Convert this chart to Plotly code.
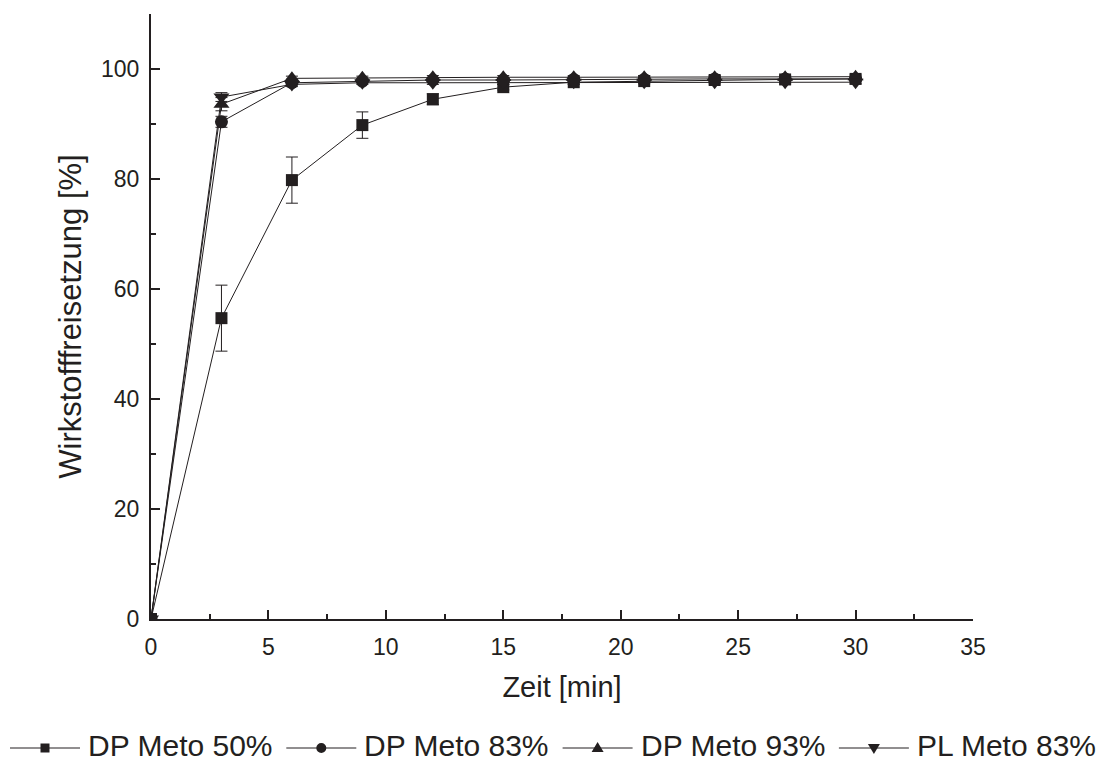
import plotly.graph_objects as go

# Release time points [min]
zeit = [0, 3, 6, 9, 12, 15, 18, 21, 24, 27, 30]

# Released drug [%] per formulation
dp_meto_50 = [0, 54.7, 79.8, 89.8, 94.5, 96.7, 97.6, 97.8, 98.0, 98.1, 98.2]
dp_meto_50_err = [0, 6.0, 4.2, 2.4, 1.0, 0.5, 0.4, 0.3, 0.3, 0.3, 0.3]
dp_meto_83 = [0, 90.4, 97.5, 97.8, 98.0, 98.0, 98.1, 98.1, 98.2, 98.2, 98.2]
dp_meto_83_err = [0, 1.0, 0.4, 0.3, 0.3, 0.3, 0.3, 0.3, 0.3, 0.3, 0.3]
dp_meto_93 = [0, 93.6, 98.3, 98.4, 98.5, 98.5, 98.5, 98.5, 98.5, 98.5, 98.6]
dp_meto_93_err = [0, 1.2, 0.4, 0.3, 0.3, 0.3, 0.3, 0.3, 0.3, 0.3, 0.3]
pl_meto_83 = [0, 94.9, 97.2, 97.5, 97.5, 97.5, 97.6, 97.6, 97.6, 97.6, 97.6]
pl_meto_83_err = [0, 0.8, 0.4, 0.3, 0.3, 0.3, 0.3, 0.3, 0.3, 0.3, 0.3]

x_ticks = [0, 5, 10, 15, 20, 25, 30, 35]
y_ticks = [0, 20, 40, 60, 80, 100]

series = [
    ("DP Meto 50%", dp_meto_50, dp_meto_50_err, "square", 12),
    ("DP Meto 83%", dp_meto_83, dp_meto_83_err, "circle", 13),
    ("DP Meto 93%", dp_meto_93, dp_meto_93_err, "triangle-up", 14),
    ("PL Meto 83%", pl_meto_83, pl_meto_83_err, "triangle-down", 14),
]

FONT = "Liberation Sans, Arial, sans-serif"
INK = "#231f20"

W, H = 1107, 763
ML, MR, MT, MB = 151, 134, 14, 144
PW, PH = W - ML - MR, H - MT - MB


def px_x(p):
    """Page pixel column -> paper x."""
    return (p - ML) / PW


def px_y(p):
    """Page pixel row -> paper y."""
    return (H - MB - p) / PH


fig = go.Figure()
for name, y, err, sym, size in series:
    fig.add_trace(go.Scatter(
        x=zeit, y=y, name=name, mode="lines+markers",
        line=dict(color=INK, width=1),
        marker=dict(symbol=sym, size=size, color=INK),
        error_y=dict(type="data", array=err, visible=True,
                     color=INK, thickness=1, width=6),
        showlegend=False,
    ))

# Legend row below the plot: long line sample, small marker, label
shapes = []
annotations = []
leg_y = px_y(748)
leg_step = 276.3
marker_paths = {
    "square": "M-4.5,-4.5 L4.5,-4.5 L4.5,4.5 L-4.5,4.5 Z",
    "circle": None,
    "triangle-up": "M0,6 L6,-4 L-6,-4 Z",
    "triangle-down": "M0,-6 L6,4 L-6,4 Z",
}
for i, (name, _, _, sym, _) in enumerate(series):
    x0 = 10 + i * leg_step
    shapes.append(dict(type="line", xref="paper", yref="paper",
                       x0=px_x(x0), x1=px_x(x0 + 70), y0=leg_y, y1=leg_y,
                       line=dict(color=INK, width=1)))
    mx = px_x(x0 + 35)
    if sym == "circle":
        shapes.append(dict(type="circle", xref="paper", yref="paper",
                           xsizemode="pixel", ysizemode="pixel",
                           xanchor=mx, yanchor=leg_y,
                           x0=-5, x1=5, y0=-5, y1=5,
                           fillcolor=INK, line=dict(width=0)))
    else:
        shapes.append(dict(type="path", xref="paper", yref="paper",
                           xsizemode="pixel", ysizemode="pixel",
                           xanchor=mx, yanchor=leg_y,
                           path=marker_paths[sym],
                           fillcolor=INK, line=dict(width=0)))
    annotations.append(dict(text=name, xref="paper", yref="paper",
                            x=px_x(x0 + 77), y=px_y(745),
                            xanchor="left", yanchor="middle", showarrow=False,
                            borderpad=0,
                            font=dict(size=30, family=FONT, color=INK)))

fig.update_layout(
    width=W, height=H,
    margin=dict(l=ML, r=MR, t=MT, b=MB),
    paper_bgcolor="white", plot_bgcolor="white",
    font=dict(family=FONT, color=INK, size=23),
    showlegend=False,
    shapes=shapes,
    annotations=annotations,
)

fig.update_xaxes(
    range=[0, 35], tickvals=x_ticks, showgrid=False, zeroline=False,
    showline=True, linecolor=INK, linewidth=2,
    ticks="inside", ticklen=9, tickwidth=2, tickcolor=INK,
    minor=dict(ticks="inside", dtick=2.5, ticklen=5, tickwidth=2, tickcolor=INK),
    tickfont=dict(size=23), ticklabelstandoff=6,
    title=dict(text="Zeit [min]", font=dict(size=29), standoff=18),
)
fig.update_yaxes(
    range=[0, 110], tickvals=y_ticks, showgrid=False, zeroline=False,
    showline=True, linecolor=INK, linewidth=2,
    ticks="inside", ticklen=9, tickwidth=2, tickcolor=INK,
    minor=dict(ticks="inside", dtick=10, ticklen=5, tickwidth=2, tickcolor=INK),
    tickfont=dict(size=23), ticklabelstandoff=5,
    title=dict(text="Wirkstofffreisetzung [%]", font=dict(size=31), standoff=10),
)

fig.write_html("out.html")
